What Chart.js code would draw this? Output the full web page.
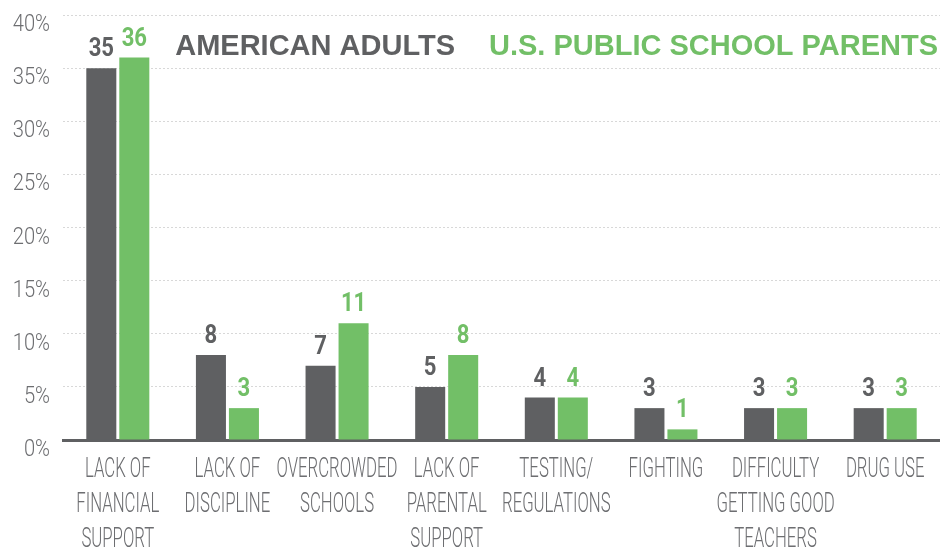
<!DOCTYPE html>
<html>
<head>
<meta charset="utf-8">
<script src="https://cdn.jsdelivr.net/npm/chart.js@4.4.1/dist/chart.umd.min.js"></script>
<style>
  html, body { margin: 0; padding: 0; background: #fff; }
  .wrap { width: 940px; height: 552px; position: relative; }
</style>
</head>
<body>
<div class="wrap"><canvas id="chart"></canvas></div>
<script>
// categories (multi-line labels as drawn under the axis)
const categories = [
  ['LACK OF', 'FINANCIAL', 'SUPPORT'],
  ['LACK OF', 'DISCIPLINE'],
  ['OVERCROWDED', 'SCHOOLS'],
  ['LACK OF', 'PARENTAL', 'SUPPORT'],
  ['TESTING/', 'REGULATIONS'],
  ['FIGHTING'],
  ['DIFFICULTY', 'GETTING GOOD', 'TEACHERS'],
  ['DRUG USE']
];
const seriesNames = ['AMERICAN ADULTS', 'U.S. PUBLIC SCHOOL PARENTS'];
const americanAdults = [35, 8, 7, 5, 4, 3, 3, 3];
const schoolParents = [36, 3, 11, 8, 4, 1, 3, 3];
const yMax = 40;
const yStep = 5;

const DARK = '#5f6062';
const GREEN = '#72bf67';
const LABEL_GRAY = '#6d6e71';
const THIN = 'Roboto, "Liberation Sans", sans-serif';

// draw text squeezed horizontally, the original uses a condensed face
function squeezed(ctx, text, x, y, sx) {
  ctx.save();
  ctx.translate(x, y);
  ctx.scale(sx, 1);
  ctx.fillText(text, 0, 0);
  ctx.restore();
}

// axis labels (categories below, percentages on the left)
const axisLabels = {
  id: 'axisLabels',
  afterDraw(chart) {
    const ctx = chart.ctx;
    const x = chart.scales.x;
    const y = chart.scales.y;
    ctx.save();
    ctx.fillStyle = LABEL_GRAY;
    ctx.textBaseline = 'alphabetic';

    ctx.font = '300 27px ' + THIN;
    ctx.textAlign = 'center';
    categories.forEach((lines, i) => {
      const cx = x.getPixelForValue(i);
      lines.forEach((line, j) => {
        squeezed(ctx, line, cx, x.top + 37 + j * 35, 0.62);
      });
    });

    ctx.font = '300 24px ' + THIN;
    ctx.textAlign = 'right';
    y.ticks.forEach((t) => {
      squeezed(ctx, t.value + '%', 50, y.getPixelForValue(t.value) + 16, 0.84);
    });
    ctx.restore();
  }
};

// value above each bar
const valueLabels = {
  id: 'valueLabels',
  afterDatasetsDraw(chart) {
    const ctx = chart.ctx;
    ctx.save();
    ctx.font = 'bold 26px ' + THIN;
    ctx.textAlign = 'center';
    ctx.textBaseline = 'alphabetic';
    chart.data.datasets.forEach((ds, di) => {
      ctx.fillStyle = ds.backgroundColor;
      chart.getDatasetMeta(di).data.forEach((bar, i) => {
        squeezed(ctx, String(ds.data[i]), bar.x, bar.y - 12, 0.85);
      });
    });
    ctx.restore();
  }
};

// text legend in the top right
const textLegend = {
  id: 'textLegend',
  afterDraw(chart) {
    const ctx = chart.ctx;
    const ds = chart.data.datasets;
    ctx.save();
    ctx.font = 'bold 29px "Liberation Sans", Arial, sans-serif';
    ctx.textAlign = 'right';
    ctx.textBaseline = 'alphabetic';
    let right = 938;
    for (let i = ds.length - 1; i >= 0; i--) {
      ctx.fillStyle = ds[i].backgroundColor;
      ctx.fillText(ds[i].label, right, 55);
      right -= ctx.measureText(ds[i].label).width + 34;
    }
    ctx.restore();
  }
};

new Chart(document.getElementById('chart'), {
  type: 'bar',
  data: {
    labels: categories,
    datasets: [
      { label: seriesNames[0], data: americanAdults, backgroundColor: DARK },
      { label: seriesNames[1], data: schoolParents, backgroundColor: GREEN }
    ]
  },
  options: {
    responsive: true,
    maintainAspectRatio: false,
    animation: false,
    categoryPercentage: 0.602,
    barPercentage: 0.91,
    layout: { padding: { top: 15, right: 0, left: 0, bottom: 0 } },
    plugins: {
      legend: { display: false },
      tooltip: { enabled: false }
    },
    scales: {
      x: {
        grid: { display: false },
        border: { display: true, color: DARK, width: 3 },
        ticks: { display: false },
        afterFit: (scale) => { scale.height = 112; }
      },
      y: {
        min: 0,
        max: yMax,
        ticks: { stepSize: yStep, display: false },
        grid: { color: '#d8d8d8', lineWidth: 1, drawTicks: false },
        border: { display: false, dash: [2, 2] },
        afterFit: (scale) => { scale.width = 63; }
      }
    }
  },
  plugins: [axisLabels, valueLabels, textLegend]
});
</script>
</body>
</html>
